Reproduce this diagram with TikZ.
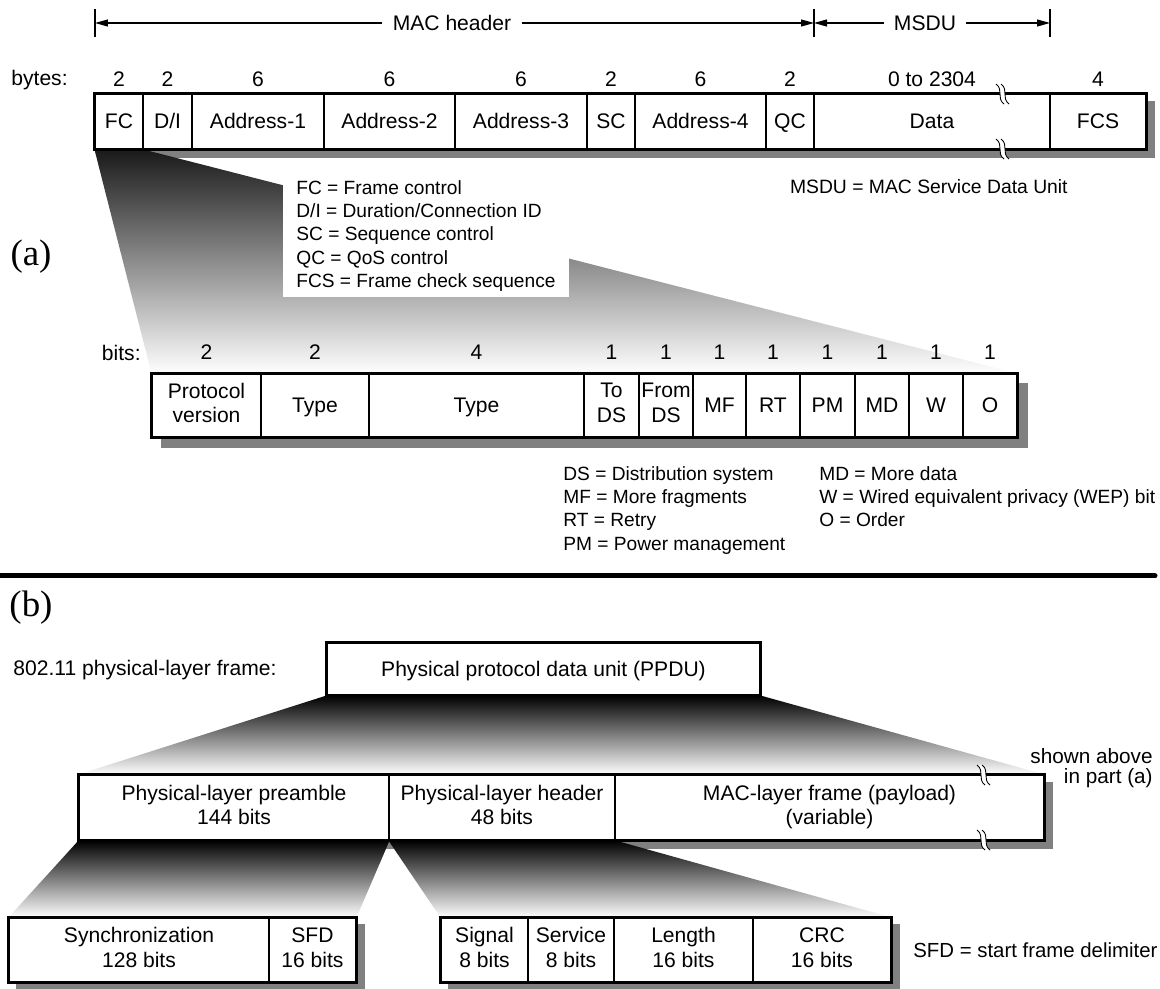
\documentclass[tikz,border=0pt]{standalone}
\usepackage{fontspec}
\setmainfont{Liberation Sans}
\newfontfamily\serifpart{Liberation Serif}
\usetikzlibrary{arrows.meta,backgrounds}
\definecolor{shadowgray}{gray}{0.5}
\definecolor{gradtop}{gray}{0.1}
\newcommand\fstrut{\rule[-0.25em]{0pt}{1.2em}}
\newcommand\fieldnode[6]{\node[fieldbox, minimum width={(#3-#2)*0.02cm}, minimum height={(#5-#4)*0.02cm}] (#1) at ({(#2+#3)/2},{(#4+#5)/2}) {#6};}
\newcommand\brkmark[2]{%
 \fill[white] (#1-4,#2-10) .. controls (#1+4,#2-4) and (#1-4,#2+4) .. (#1+4,#2+10) -- (#1+9,#2+10) .. controls (#1+1,#2+4) and (#1+9,#2-4) .. (#1+1,#2-10) -- cycle;
 \draw[line width=0.5pt] (#1-4,#2-10) .. controls (#1+4,#2-4) and (#1-4,#2+4) .. (#1+4,#2+10);
 \draw[line width=0.5pt] (#1+1,#2-10) .. controls (#1+9,#2-4) and (#1+1,#2+4) .. (#1+9,#2+10);}
\begin{document}
\begin{tikzpicture}[x=0.02cm, y=-0.02cm,
  font=\fontsize{12}{14.2}\selectfont,
  fieldbox/.style={draw, line width=0.6pt, fill=white, inner sep=0pt, align=center,
    font=\fontsize{12}{14.2}\selectfont, execute at begin node=\fstrut, execute at end node=\fstrut},
  num/.style={inner sep=0pt},
  dimarrow/.style={-{Triangle[length=0.26cm,width=0.14cm]}, line width=0.6pt},
  tick/.style={line width=0.6pt},
  shadowfill/.style={fill=shadowgray},
  partlabel/.style={font=\serifpart\fontsize{21}{24}\selectfont, inner sep=0pt},
  legend/.style={align=left, inner sep=0pt, anchor=north west, font=\fontsize{10.9}{13.26}\selectfont}]
\useasboundingbox (0,0) rectangle (1160,989);

% ---------- (a) MAC frame ----------
\fieldnode{FC}{95}{143}{94}{149}{FC}
\fieldnode{DI}{143}{192}{94}{149}{D/I}
\fieldnode{A1}{192}{324}{94}{149}{Address-1}
\fieldnode{A2}{324}{455}{94}{149}{Address-2}
\fieldnode{A3}{455}{587}{94}{149}{Address-3}
\fieldnode{SC}{587}{635}{94}{149}{SC}
\fieldnode{A4}{635}{766}{94}{149}{Address-4}
\fieldnode{QC}{766}{814}{94}{149}{QC}
\fieldnode{Data}{814}{1050}{94}{149}{Data}
\fieldnode{FCS}{1050}{1146}{94}{149}{FCS}

% frame control bits
\fieldnode{PV}{152}{261}{374}{437}{Protocol\\version}
\fieldnode{T1}{261}{369}{374}{437}{Type}
\fieldnode{T2}{369}{584}{374}{437}{Type}
\fieldnode{ToDS}{584}{639}{374}{437}{To\\DS}
\fieldnode{FromDS}{639}{693}{374}{437}{From\\DS}
\fieldnode{MF}{693}{746}{374}{437}{MF}
\fieldnode{RT}{746}{800}{374}{437}{RT}
\fieldnode{PM}{800}{855}{374}{437}{PM}
\fieldnode{MD}{855}{909}{374}{437}{MD}
\fieldnode{W}{909}{963}{374}{437}{W}
\fieldnode{O}{963}{1017}{374}{437}{O}

% ---------- (b) physical layer ----------
\fieldnode{PPDU}{327}{760}{643}{695}{Physical protocol data unit (PPDU)}
\fieldnode{pre}{79}{389}{775}{840}{Physical-layer preamble\\144 bits}
\fieldnode{hdr}{389}{615}{775}{840}{Physical-layer header\\48 bits}
\fieldnode{mac}{615}{1044}{775}{840}{MAC-layer frame (payload)\\(variable)}
\fieldnode{Sync}{9}{269}{918}{982}{Synchronization\\128 bits}
\fieldnode{SFD}{269}{356}{918}{982}{SFD\\16 bits}
\fieldnode{Signal}{441}{528}{918}{982}{Signal\\8 bits}
\fieldnode{Service}{528}{614}{918}{982}{Service\\8 bits}
\fieldnode{Length}{614}{753}{918}{982}{Length\\16 bits}
\fieldnode{CRC}{753}{891}{918}{982}{CRC\\16 bits}

% shadows
\begin{scope}[on background layer]
\fill[shadowfill] ([shift={(8,8)}]FC.north west) rectangle ([shift={(8,8)}]FCS.south east);
\fill[shadowfill] ([shift={(10,10)}]PV.north west) rectangle ([shift={(10,10)}]O.south east);
\fill[shadowfill] ([shift={(8,8)}]pre.north west) rectangle ([shift={(8,8)}]mac.south east);
\fill[shadowfill] ([shift={(8,7)}]Sync.north west) rectangle ([shift={(8,7)}]SFD.south east);
\fill[shadowfill] ([shift={(8,7)}]Signal.north west) rectangle ([shift={(8,7)}]CRC.south east);
\end{scope}

% expansion gradients
\shade[top color=gradtop, bottom color=white] (FC.south west) -- (FC.south east) -- (O.north east) -- (PV.north west) -- cycle;
\shade[top color=black, bottom color=white] (PPDU.south west) -- (PPDU.south east) -- (mac.north east) -- (pre.north west) -- cycle;
\shade[top color=black, bottom color=white] (pre.south west) -- (pre.south east) -- (SFD.north east) -- (Sync.north west) -- cycle;
\shade[top color=black, bottom color=white] (hdr.south west) -- (hdr.south east) -- (CRC.north east) -- (Signal.north west) -- cycle;

% outlines
\draw[line width=2pt] (FC.north west) rectangle (FCS.south east);
\draw[line width=1.4pt] (PV.north west) rectangle (O.south east);
\draw[line width=1.7pt] (PPDU.north west) rectangle (PPDU.south east);
\draw[line width=1.2pt] (pre.north west) rectangle (mac.south east);
\draw[line width=1.2pt] (Sync.north west) rectangle (SFD.south east);
\draw[line width=1.2pt] (Signal.north west) rectangle (CRC.south east);

% break marks
\brkmark{1000}{94}
\brkmark{1000}{149}
\brkmark{981}{775}
\brkmark{981}{840}

% MAC header / MSDU dimension arrows
\coordinate (macL) at (95,23);
\coordinate (macM) at (814,23);
\coordinate (macR) at (1050,23);
\draw[tick] (macL) ++(0,-14) -- ++(0,28);
\draw[tick] (macM) ++(0,-14) -- ++(0,28);
\draw[tick] (macR) ++(0,-14) -- ++(0,28);
\node[inner xsep=0.2cm, inner ysep=0pt] (machdr) at (452,23) {MAC header};
\node[inner xsep=0.2cm, inner ysep=0pt] (msdu) at (925,23) {MSDU};
\draw[dimarrow] (machdr.west) -- (macL);
\draw[dimarrow] (machdr.east) -- (macM);
\draw[dimarrow] (msdu.west) -- (macM);
\draw[dimarrow] (msdu.east) -- (macR);

% byte counts
\node[num, anchor=east] (byteslbl) at (68,80) {bytes:};
\node[num] (bFC) at ([yshift=0.28cm]FC.north) {2};
\node[num] (bDI) at ([yshift=0.28cm]DI.north) {2};
\node[num] (bA1) at ([yshift=0.28cm]A1.north) {6};
\node[num] (bA2) at ([yshift=0.28cm]A2.north) {6};
\node[num] (bA3) at ([yshift=0.28cm]A3.north) {6};
\node[num] (bSC) at ([yshift=0.28cm]SC.north) {2};
\node[num] (bA4) at ([yshift=0.28cm]A4.north) {6};
\node[num] (bQC) at ([yshift=0.28cm]QC.north) {2};
\node[num] (bData) at ([yshift=0.28cm]Data.north) {0 to 2304};
\node[num] (bFCS) at ([yshift=0.28cm]FCS.north) {4};

% bit counts
\node[num, anchor=east] (bitslbl) at (141,353) {bits:};
\node[num] (cPV) at ([yshift=0.42cm]PV.north) {2};
\node[num] (cT1) at ([yshift=0.42cm]T1.north) {2};
\node[num] (cT2) at ([yshift=0.42cm]T2.north) {4};
\node[num] (cToDS) at ([yshift=0.42cm]ToDS.north) {1};
\node[num] (cFromDS) at ([yshift=0.42cm]FromDS.north) {1};
\node[num] (cMF) at ([yshift=0.42cm]MF.north) {1};
\node[num] (cRT) at ([yshift=0.42cm]RT.north) {1};
\node[num] (cPM) at ([yshift=0.42cm]PM.north) {1};
\node[num] (cMD) at ([yshift=0.42cm]MD.north) {1};
\node[num] (cW) at ([yshift=0.42cm]W.north) {1};
\node[num] (cO) at ([yshift=0.42cm]O.north) {1};

% legends
\node[legend, fill=white, inner xsep=0.26cm, inner ysep=0.12cm] (legA) at (283,174)
  {FC = Frame control\\D/I = Duration/Connection ID\\SC = Sequence control\\QC = QoS control\\FCS = Frame check sequence};
\node[num, anchor=east, font=\fontsize{11}{13}\selectfont] (legMSDU) at (1068,187) {MSDU = MAC Service Data Unit};
\node[legend] (legB) at (563,466)
  {DS = Distribution system\\MF = More fragments\\RT = Retry\\PM = Power management};
\node[legend] (legC) at (819,466)
  {MD = More data\\W = Wired equivalent privacy (WEP) bit\\O = Order};

% part labels and separator
\node[partlabel] (parta) at (31,257) {(a)};
\node[partlabel] (partb) at (31,608) {(b)};
\draw[line width=0.1cm, line cap=round] (0,576) -- (1155,576);

% part (b) texts
\node[num, anchor=west] (physlbl) at (13,670) {802.11 physical-layer frame:};
\node[num, anchor=east, align=right, font=\fontsize{11.8}{11.6}\selectfont] (shown) at (1153,768) {shown above\\in part (a)};
\node[num, anchor=west, font=\fontsize{11.6}{13}\selectfont] (sfdlbl) at (913,950) {SFD = start frame delimiter};
\end{tikzpicture}
\end{document}
